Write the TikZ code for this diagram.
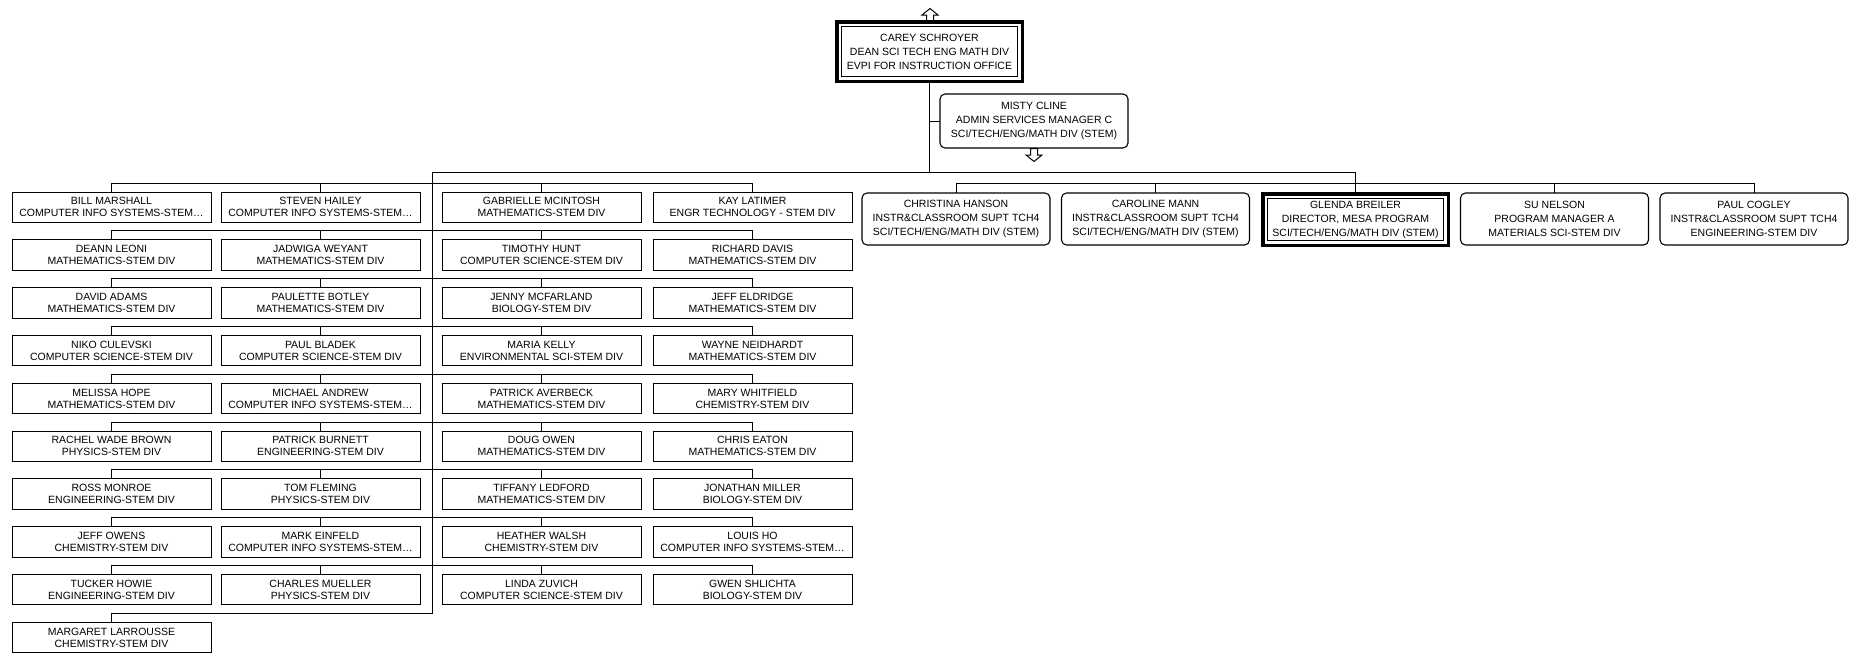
\documentclass[tikz,border=0pt]{standalone}
\usepackage{fontspec}
\setmainfont{Liberation Sans}
\begin{document}
\begin{tikzpicture}[x=1pt,y=-1pt,
  line/.style={draw=black,line width=0.9pt},
  emp/.style={draw=black,line width=0.9pt,fill=white,anchor=north west,minimum width=199pt,minimum height=30.5pt,inner sep=0pt,outer sep=0pt,align=center,font=\fontsize{10.5}{12}\selectfont},
  mgr/.style={draw=black,line width=1.1pt,fill=white,rounded corners=5pt,minimum width=188pt,minimum height=52pt,inner sep=0pt,outer sep=0pt,align=center,font=\fontsize{10.5}{14}\selectfont},
  head/.style={draw=black,line width=3.5pt,fill=white,minimum width=185.5pt,inner sep=0pt,outer sep=0pt,align=center,font=\fontsize{10.5}{14}\selectfont},
  innerline/.style={draw=black,line width=1.2pt},
  glyph/.style={draw=black,line width=1pt,fill=white,line join=miter}]
\useasboundingbox (0,0) rectangle (1853,653);

% top managers
\node[head,minimum height=59.5pt] (carey) at (929.5,51.5) {CAREY SCHROYER\\DEAN SCI TECH ENG MATH DIV\\EVPI FOR INSTRUCTION OFFICE};
\draw[innerline] ([xshift=4.75pt,yshift=-4.75pt]carey.north west) rectangle ([xshift=-4.75pt,yshift=4.75pt]carey.south east);
\node[mgr,minimum width=188pt,minimum height=54pt] (misty) at (1034,121) {MISTY CLINE\\ADMIN SERVICES MANAGER C\\SCI/TECH/ENG/MATH DIV (STEM)};

% right group
\node[mgr] (christina) at (956,219) {CHRISTINA HANSON\\INSTR\&CLASSROOM SUPT TCH4\\SCI/TECH/ENG/MATH DIV (STEM)};
\node[mgr] (caroline) at (1155.5,219) {CAROLINE MANN\\INSTR\&CLASSROOM SUPT TCH4\\SCI/TECH/ENG/MATH DIV (STEM)};
\node[head,minimum height=51.5pt] (glenda) at (1355.5,219.5) {GLENDA BREILER\\DIRECTOR, MESA PROGRAM\\SCI/TECH/ENG/MATH DIV (STEM)};
\draw[innerline] ([xshift=4.75pt,yshift=-4.75pt]glenda.north west) rectangle ([xshift=-4.75pt,yshift=4.75pt]glenda.south east);
\node[mgr] (su) at (1554.5,219) {SU NELSON\\PROGRAM MANAGER A\\MATERIALS SCI-STEM DIV};
\node[mgr] (paul) at (1754,219) {PAUL COGLEY\\INSTR\&CLASSROOM SUPT TCH4\\ENGINEERING-STEM DIV};

% grid columns: a (x=12), b (x=221), c (x=442), d (x=653)
\node[emp] (a1) at (12,192) {BILL MARSHALL\\COMPUTER INFO SYSTEMS-STEM…};
\node[emp] (a2) at (12,239.8) {DEANN LEONI\\MATHEMATICS-STEM DIV};
\node[emp] (a3) at (12,287.6) {DAVID ADAMS\\MATHEMATICS-STEM DIV};
\node[emp] (a4) at (12,335.4) {NIKO CULEVSKI\\COMPUTER SCIENCE-STEM DIV};
\node[emp] (a5) at (12,383.2) {MELISSA HOPE\\MATHEMATICS-STEM DIV};
\node[emp] (a6) at (12,431) {RACHEL WADE BROWN\\PHYSICS-STEM DIV};
\node[emp] (a7) at (12,478.8) {ROSS MONROE\\ENGINEERING-STEM DIV};
\node[emp] (a8) at (12,526.6) {JEFF OWENS\\CHEMISTRY-STEM DIV};
\node[emp] (a9) at (12,574.4) {TUCKER HOWIE\\ENGINEERING-STEM DIV};
\node[emp] (a10) at (12,622.2) {MARGARET LARROUSSE\\CHEMISTRY-STEM DIV};

\node[emp] (b1) at (221,192) {STEVEN HAILEY\\COMPUTER INFO SYSTEMS-STEM…};
\node[emp] (b2) at (221,239.8) {JADWIGA WEYANT\\MATHEMATICS-STEM DIV};
\node[emp] (b3) at (221,287.6) {PAULETTE BOTLEY\\MATHEMATICS-STEM DIV};
\node[emp] (b4) at (221,335.4) {PAUL BLADEK\\COMPUTER SCIENCE-STEM DIV};
\node[emp] (b5) at (221,383.2) {MICHAEL ANDREW\\COMPUTER INFO SYSTEMS-STEM…};
\node[emp] (b6) at (221,431) {PATRICK BURNETT\\ENGINEERING-STEM DIV};
\node[emp] (b7) at (221,478.8) {TOM FLEMING\\PHYSICS-STEM DIV};
\node[emp] (b8) at (221,526.6) {MARK EINFELD\\COMPUTER INFO SYSTEMS-STEM…};
\node[emp] (b9) at (221,574.4) {CHARLES MUELLER\\PHYSICS-STEM DIV};

\node[emp] (c1) at (442,192) {GABRIELLE MCINTOSH\\MATHEMATICS-STEM DIV};
\node[emp] (c2) at (442,239.8) {TIMOTHY HUNT\\COMPUTER SCIENCE-STEM DIV};
\node[emp] (c3) at (442,287.6) {JENNY MCFARLAND\\BIOLOGY-STEM DIV};
\node[emp] (c4) at (442,335.4) {MARIA KELLY\\ENVIRONMENTAL SCI-STEM DIV};
\node[emp] (c5) at (442,383.2) {PATRICK AVERBECK\\MATHEMATICS-STEM DIV};
\node[emp] (c6) at (442,431) {DOUG OWEN\\MATHEMATICS-STEM DIV};
\node[emp] (c7) at (442,478.8) {TIFFANY LEDFORD\\MATHEMATICS-STEM DIV};
\node[emp] (c8) at (442,526.6) {HEATHER WALSH\\CHEMISTRY-STEM DIV};
\node[emp] (c9) at (442,574.4) {LINDA ZUVICH\\COMPUTER SCIENCE-STEM DIV};

\node[emp] (d1) at (653,192) {KAY LATIMER\\ENGR TECHNOLOGY - STEM DIV};
\node[emp] (d2) at (653,239.8) {RICHARD DAVIS\\MATHEMATICS-STEM DIV};
\node[emp] (d3) at (653,287.6) {JEFF ELDRIDGE\\MATHEMATICS-STEM DIV};
\node[emp] (d4) at (653,335.4) {WAYNE NEIDHARDT\\MATHEMATICS-STEM DIV};
\node[emp] (d5) at (653,383.2) {MARY WHITFIELD\\CHEMISTRY-STEM DIV};
\node[emp] (d6) at (653,431) {CHRIS EATON\\MATHEMATICS-STEM DIV};
\node[emp] (d7) at (653,478.8) {JONATHAN MILLER\\BIOLOGY-STEM DIV};
\node[emp] (d8) at (653,526.6) {LOUIS HO\\COMPUTER INFO SYSTEMS-STEM…};
\node[emp] (d9) at (653,574.4) {GWEN SHLICHTA\\BIOLOGY-STEM DIV};

% connectors
\coordinate (spT) at (432,172);
\coordinate (spB) at (432,613.2);
\draw[line] (carey.south) -- (carey.south |- spT);
\draw[line] (misty.west) -- (misty.west -| carey.south);
\draw[line] (spT) -| (glenda.north);
\draw[line] (christina.north) -- ++(0,-10) -| (paul.north);
\draw[line] (caroline.north) -- ++(0,-10);
\draw[line] (su.north) -- ++(0,-10);
\draw[line] (spT) -- (spB) -| (a10.north);
\foreach \k in {1,...,9}{
  \draw[line] (a\k.north) -- ++(0,-9) -| (d\k.north);
  \draw[line] (b\k.north) -- ++(0,-9);
  \draw[line] (c\k.north) -- ++(0,-9);
}

% expand glyphs
\draw[glyph] (930,8.5) -- (938,15) -- (933.5,15) -- (933.5,20.5) -- (926.5,20.5) -- (926.5,15) -- (922,15) -- cycle;
\draw[glyph] (1030.5,148.5) -- (1037.5,148.5) -- (1037.5,155) -- (1042,155) -- (1034,161.5) -- (1026,155) -- (1030.5,155) -- cycle;
\end{tikzpicture}
\end{document}
